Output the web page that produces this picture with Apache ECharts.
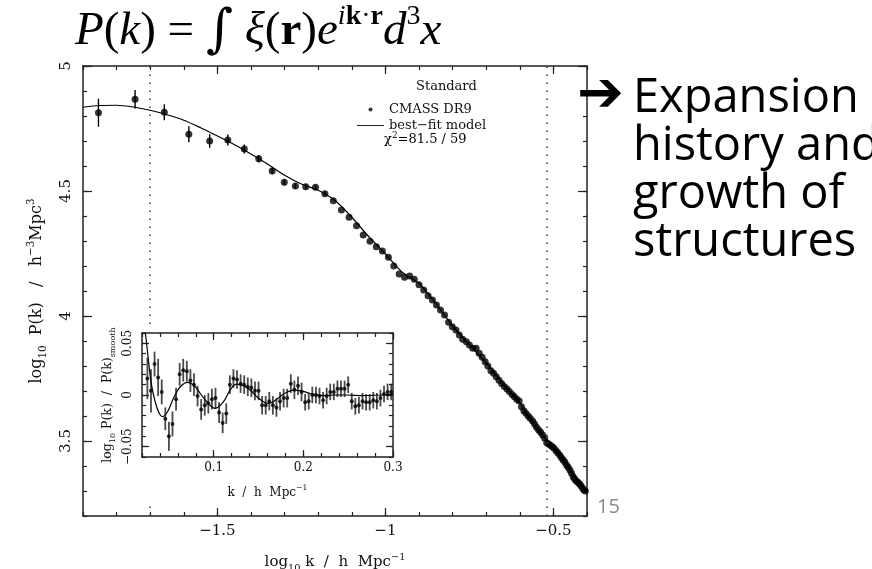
<!DOCTYPE html>
<html>
<head>
<meta charset="utf-8">
<script src="https://cdn.jsdelivr.net/npm/echarts@6/dist/echarts.min.js"></script>
<style>
  html, body { margin: 0; padding: 0; background: #fff; }
  #chart { width: 872px; height: 569px; }
</style>
</head>
<body>
<div id="chart"></div>
<script>
// main panel: log10 k vs log10 P(k)
const logK = [
  -1.854, -1.745, -1.658, -1.585, -1.523, -1.469, -1.420, -1.377, -1.337, -1.301,
  -1.268, -1.237, -1.208, -1.180, -1.155, -1.131, -1.108, -1.086, -1.066, -1.046,
  -1.027, -1.009, -0.991, -0.975, -0.959, -0.943, -0.928, -0.914, -0.900, -0.886,
  -0.873, -0.860, -0.848, -0.836, -0.824, -0.812, -0.801, -0.790, -0.780, -0.770,
  -0.759, -0.750, -0.740, -0.730, -0.721, -0.712, -0.703, -0.695, -0.686, -0.678,
  -0.670, -0.662, -0.654, -0.646, -0.638, -0.631, -0.623, -0.616, -0.609, -0.602,
  -0.595, -0.588, -0.582, -0.575, -0.569, -0.562, -0.556, -0.550, -0.544, -0.538,
  -0.532, -0.526, -0.520, -0.514, -0.509, -0.503, -0.498, -0.492, -0.487, -0.481,
  -0.476, -0.471, -0.466, -0.461, -0.456, -0.451, -0.446, -0.441, -0.437, -0.432,
  -0.427, -0.422, -0.418, -0.413, -0.409, -0.405
];
const logP = [
  4.813, 4.867, 4.815, 4.727, 4.700, 4.704, 4.668, 4.629, 4.580, 4.535,
  4.520, 4.517, 4.515, 4.489, 4.461, 4.424, 4.395, 4.361, 4.324, 4.299,
  4.277, 4.260, 4.235, 4.200, 4.168, 4.155, 4.160, 4.147, 4.125, 4.104,
  4.081, 4.064, 4.044, 4.024, 4.004, 3.975, 3.957, 3.944, 3.924, 3.907,
  3.897, 3.884, 3.871, 3.871, 3.851, 3.835, 3.817, 3.800, 3.781, 3.771,
  3.757, 3.743, 3.730, 3.718, 3.708, 3.698, 3.686, 3.677, 3.667, 3.660,
  3.637, 3.621, 3.611, 3.600, 3.591, 3.580, 3.568, 3.555, 3.544, 3.535,
  3.524, 3.511, 3.493, 3.488, 3.483, 3.477, 3.471, 3.461, 3.453, 3.443,
  3.433, 3.424, 3.416, 3.404, 3.395, 3.384, 3.371, 3.357, 3.348, 3.340,
  3.335, 3.328, 3.321, 3.311, 3.304, 3.300
];
// error bars that stick out of the dots (first bins only)
const logPErr = [0.056, 0.037, 0.032, 0.032, 0.027, 0.022, 0.018, 0.015, 0.013, 0.012, 0.011, 0.010, 0.009, 0.009];

const modelLogK = [
  -1.90, -1.85, -1.80, -1.75, -1.70, -1.65, -1.60, -1.55, -1.50, -1.45, -1.40,
  -1.35, -1.30, -1.25, -1.20, -1.15, -1.10, -1.05, -1.00, -0.95, -0.90,
  -0.85, -0.80, -0.75, -0.70, -0.65, -0.60, -0.55, -0.50, -0.45, -0.40
];
const modelLogP = [
  4.835, 4.842, 4.843, 4.836, 4.823, 4.805, 4.783, 4.753, 4.720, 4.686, 4.648,
  4.607, 4.563, 4.528, 4.503, 4.462, 4.395, 4.318, 4.248, 4.175, 4.130,
  4.050, 3.960, 3.885, 3.812, 3.730, 3.652, 3.548, 3.473, 3.385, 3.298
];
const fitRange = [0.02, 0.3];

// inset: k vs log10 P(k)/P(k)smooth
const insetK = [
  0.026, 0.030, 0.034, 0.038, 0.042, 0.046, 0.050, 0.054, 0.058, 0.062,
  0.066, 0.070, 0.074, 0.078, 0.082, 0.086, 0.090, 0.094, 0.098, 0.102,
  0.106, 0.110, 0.114, 0.118, 0.122, 0.126, 0.130, 0.134, 0.138, 0.142,
  0.146, 0.150, 0.154, 0.158, 0.162, 0.166, 0.170, 0.174, 0.178, 0.182,
  0.186, 0.190, 0.194, 0.198, 0.202, 0.206, 0.210, 0.214, 0.218, 0.222,
  0.226, 0.230, 0.234, 0.238, 0.242, 0.246, 0.250, 0.254, 0.258, 0.262,
  0.266, 0.270, 0.274, 0.278, 0.282, 0.286, 0.290, 0.294, 0.298
];
const insetRatio = [
  0.016, 0.004, 0.030, 0.017, 0.003, -0.023, -0.040, -0.028, -0.004, 0.020,
  0.024, 0.023, 0.014, 0.010, -0.001, -0.014, -0.010, -0.008, -0.004, -0.003,
  -0.017, -0.027, -0.018, 0.010, 0.016, 0.015, 0.011, 0.010, 0.008, 0.007,
  0.004, 0.004, -0.010, -0.010, -0.006, -0.010, -0.012, -0.006, -0.003, -0.003,
  0.011, 0.005, 0.009, 0.003, -0.007, -0.006, 0.000, 0.000, -0.001, -0.005,
  -0.001, 0.003, 0.003, 0.006, 0.006, 0.006, 0.010, -0.006, -0.011, -0.010,
  -0.006, -0.007, -0.007, -0.005, -0.006, -0.003, 0.001, 0.003, 0.003
];
const insetErr = [
  0.020, 0.021, 0.012, 0.018, 0.012, 0.011, 0.014, 0.012, 0.011, 0.011,
  0.011, 0.010, 0.011, 0.011, 0.010, 0.010, 0.010, 0.010, 0.010, 0.010,
  0.010, 0.010, 0.010, 0.009, 0.009, 0.009, 0.009, 0.009, 0.009, 0.009,
  0.009, 0.009, 0.009, 0.009, 0.009, 0.009, 0.009, 0.009, 0.009, 0.009,
  0.009, 0.009, 0.009, 0.009, 0.008, 0.008, 0.008, 0.008, 0.008, 0.008,
  0.008, 0.008, 0.008, 0.008, 0.008, 0.008, 0.008, 0.008, 0.008, 0.008,
  0.008, 0.008, 0.008, 0.008, 0.008, 0.008, 0.008, 0.008, 0.008
];
const insetModelK = [
  0.020, 0.0237, 0.027, 0.031, 0.037, 0.043, 0.0486, 0.0552, 0.0627, 0.0708,
  0.0775, 0.0849, 0.0923, 0.1016, 0.1109, 0.1183, 0.1257, 0.1331, 0.1406, 0.148,
  0.1554, 0.161, 0.1665, 0.1739, 0.1814, 0.1888, 0.1962, 0.2036, 0.211, 0.2222,
  0.2333, 0.2481, 0.2667, 0.2852, 0.300
];
const insetModelRatio = [
  0.075, 0.060, 0.035, 0.008, -0.013, -0.021, -0.016, -0.003, 0.008, 0.0123,
  0.0097, 0.0016, -0.0065, -0.0129, -0.0065, 0.0048, 0.0106, 0.009, 0.0048, -0.0016,
  -0.0065, -0.0081, -0.0065, -0.0016, 0.0026, 0.0048, 0.0042, 0.0026, 0.0006, -0.0006,
  0, 0, -0.0006, 0, 0.0006
];

const xMajor = [-1.5, -1, -0.5];
const yMajor = [3.5, 4, 4.5, 5];
const insetXMajor = [0.1, 0.2, 0.3];
const insetYMajor = [-0.05, 0, 0.05];

const serif = 'DejaVu Serif';
const ink = '#222';
const minus = (v) => (v < 0 ? '\u2212' : '') + Math.abs(v);

function minorAxis(gridIndex, position, min, max, step, z) {
  return {
    type: 'value', gridIndex, position, min, max, interval: step, z,
    axisLine: { show: true, onZero: false, lineStyle: { color: ink, width: 1.5 } },
    axisTick: { show: true, inside: true, length: 4, lineStyle: { color: ink, width: 1.2 } },
    axisLabel: { show: false },
    splitLine: { show: false },
  };
}

function majorAxis(gridIndex, position, min, max, ticks, len, z, extra) {
  return Object.assign({
    type: 'value', gridIndex, position, min, max, z,
    axisLine: { show: false, onZero: false },
    axisTick: { show: true, inside: true, length: len, customValues: ticks, lineStyle: { color: ink, width: 1.2 } },
    axisLabel: { show: false },
    splitLine: { show: false },
  }, extra || {});
}

const nameRich = (size) => ({
  n: { fontFamily: serif, fontSize: size, lineHeight: size + 6, color: '#111' },
  s: { fontFamily: serif, fontSize: size * 0.65, lineHeight: size * 0.65, verticalAlign: 'bottom', color: '#111' },
  p: { fontFamily: serif, fontSize: size * 0.65, lineHeight: size * 0.65, verticalAlign: 'top', color: '#111' },
});

const mainX = [-1.9, -0.4], mainY = [3.2, 5.0];
const inX = [0.02, 0.3], inY = [-0.06, 0.06];

const xAxes = [
  minorAxis(0, 'bottom', mainX[0], mainX[1], 0.1, 0),
  majorAxis(0, 'bottom', mainX[0], mainX[1], xMajor, 8, 0, {
    axisLabel: { show: true, customValues: xMajor, formatter: minus, margin: 8, fontFamily: serif, fontSize: 15, color: '#111' },
    name: '{n|log}{s|10}{n| k  /  h  Mpc}{p|\u22121}',
    nameLocation: 'middle', nameGap: 36,
    nameTextStyle: { rich: nameRich(15) },
  }),
  minorAxis(0, 'top', mainX[0], mainX[1], 0.1, 0),
  majorAxis(0, 'top', mainX[0], mainX[1], xMajor, 8, 0),
  minorAxis(1, 'bottom', inX[0], inX[1], 0.02, 6),
  majorAxis(1, 'bottom', inX[0], inX[1], insetXMajor, 7, 6, {
    axisLabel: { show: true, customValues: insetXMajor, margin: 5, fontFamily: serif, fontSize: 12, color: '#111' },
    name: '{n|k  /  h  Mpc}{p|\u22121}',
    nameLocation: 'middle', nameGap: 27,
    nameTextStyle: { rich: nameRich(12) },
  }),
  minorAxis(1, 'top', inX[0], inX[1], 0.02, 6),
  majorAxis(1, 'top', inX[0], inX[1], insetXMajor, 7, 6),
];

const yAxes = [
  minorAxis(0, 'left', mainY[0], mainY[1], 0.1, 0),
  majorAxis(0, 'left', mainY[0], mainY[1], yMajor, 9, 0, {
    axisLabel: { show: true, customValues: yMajor, rotate: 90, margin: 9, fontFamily: serif, fontSize: 15, color: '#111' },
    name: '{n|log}{s|10}{n|  P(k)   /   h}{p|\u22123}{n|Mpc}{p|3}',
    nameLocation: 'middle', nameRotate: 90, nameGap: 35,
    nameTextStyle: { rich: nameRich(16) },
  }),
  minorAxis(0, 'right', mainY[0], mainY[1], 0.1, 0),
  majorAxis(0, 'right', mainY[0], mainY[1], yMajor, 9, 0),
  minorAxis(1, 'left', inY[0], inY[1], 0.01, 6),
  majorAxis(1, 'left', inY[0], inY[1], insetYMajor, 7, 6, {
    axisLabel: { show: true, customValues: insetYMajor, formatter: minus, rotate: 90, margin: 8, fontFamily: serif, fontSize: 12, color: '#111' },
    name: '{n|log}{s|10}{n| P(k)  /  P(k)}{s|smooth}',
    nameLocation: 'middle', nameRotate: 90, nameGap: 25,
    nameTextStyle: { rich: nameRich(12.5) },
  }),
  minorAxis(1, 'right', inY[0], inY[1], 0.01, 6),
  majorAxis(1, 'right', inY[0], inY[1], insetYMajor, 7, 6),
];

function errorBars(color, width) {
  return function (params, api) {
    const x = api.value(0), y = api.value(1), e = api.value(2);
    const lo = api.coord([x, y - e]);
    const hi = api.coord([x, y + e]);
    return {
      type: 'line',
      shape: { x1: lo[0], y1: lo[1], x2: hi[0], y2: hi[1] },
      style: { stroke: color, lineWidth: width },
    };
  };
}

const mainPoints = logK.map((x, i) => [x, logP[i]]);
const mainBars = logPErr.map((e, i) => [logK[i], logP[i], e]);
const mainModel = modelLogK.map((x, i) => [x, modelLogP[i]]);
const insetPoints = insetK.map((k, i) => [k, insetRatio[i]]);
const insetBars = insetK.map((k, i) => [k, insetRatio[i], insetErr[i]]);
const insetModel = insetModelK.map((k, i) => [k, insetModelRatio[i]]);

const chart = echarts.init(document.getElementById('chart'), null, { renderer: 'canvas' });

chart.setOption({
  animation: false,
  backgroundColor: '#fff',
  grid: [
    { left: 83, top: 66, width: 504, height: 450, outerBoundsMode: 'none', containLabel: false },
    { left: 142, top: 333, width: 251, height: 124, outerBoundsMode: 'none', containLabel: false },
  ],
  xAxis: xAxes,
  yAxis: yAxes,
  legend: {
    data: [
      { name: 'CMASS DR9', icon: 'circle' },
      { name: 'best\u2212fit model', icon: 'path://M0,0H31V1H0Z' },
    ],
    orient: 'vertical',
    left: 352, top: 98,
    itemWidth: 27, itemHeight: 4, itemGap: 3,
    textStyle: { fontFamily: serif, fontSize: 13, color: '#111' },
    selectedMode: false,
  },
  graphic: [
    {
      type: 'rect', z: 4, silent: true,
      shape: { x: 97, y: 327, width: 306, height: 178 },
      style: { fill: '#fff' },
    },
    {
      type: 'text', left: 75, top: 3, z: 7,
      style: {
        text: '{i|P}{n|(}{i|k}{n|) = }{int|\u222B}{i| \u03BE}{n|(}{b|r}{n|)}{i|e}{si|i}{sb|k}{sn|\u00B7}{sb|r}{i|d}{sn|3}{i|x}',
        rich: {
          i: { fontFamily: 'Liberation Serif', fontStyle: 'italic', fontSize: 47, lineHeight: 58, color: '#000' },
          n: { fontFamily: 'Liberation Serif', fontSize: 47, lineHeight: 58, color: '#000' },
          b: { fontFamily: 'Liberation Serif', fontWeight: 'bold', fontSize: 47, lineHeight: 58, color: '#000' },
          int: { fontFamily: 'DejaVu Serif', fontSize: 52, lineHeight: 58, color: '#000' },
          si: { fontFamily: 'Liberation Serif', fontStyle: 'italic', fontSize: 28, lineHeight: 30, verticalAlign: 'top', color: '#000' },
          sb: { fontFamily: 'Liberation Serif', fontWeight: 'bold', fontSize: 28, lineHeight: 30, verticalAlign: 'top', color: '#000' },
          sn: { fontFamily: 'Liberation Serif', fontSize: 28, lineHeight: 30, verticalAlign: 'top', color: '#000' },
        },
      },
    },
    {
      type: 'text', left: 416, top: 80, z: 7,
      style: { text: 'Standard', fontFamily: serif, fontSize: 13, fill: '#111' },
    },
    {
      type: 'text', left: 384, top: 131, z: 7,
      style: {
        text: '{n|\u03C7}{p|2}{n|=81.5 / 59}',
        rich: {
          n: { fontFamily: serif, fontSize: 13, lineHeight: 17, color: '#111' },
          p: { fontFamily: serif, fontSize: 9, lineHeight: 9, verticalAlign: 'top', color: '#111' },
        },
      },
    },
    {
      type: 'text', left: 577, top: 68, z: 7,
      style: { text: '\u2794', fontFamily: 'DejaVu Sans', fontSize: 56, fill: '#000' },
    },
    {
      type: 'text', left: 633, top: 75, z: 7,
      style: {
        text: 'Expansion\nhistory and\ngrowth of\nstructures',
        fontFamily: 'Open Sans', fontSize: 47, lineHeight: 48, fill: '#000',
      },
    },
    {
      type: 'text', left: 597, top: 497, z: 7,
      style: { text: '15', fontFamily: 'Open Sans', fontSize: 20, fill: '#8a8a8a' },
    },
  ],
  series: [
    {
      name: 'best\u2212fit model', type: 'line', xAxisIndex: 1, yAxisIndex: 1,
      data: mainModel, smooth: 0.3, symbol: 'none', z: 2,
      lineStyle: { color: '#000', width: 1.2 },
      itemStyle: { color: '#000' },
      markLine: {
        silent: true, symbol: 'none', z: 3, label: { show: false },
        lineStyle: { type: [1.5, 6.5], color: '#444', width: 1.6 },
        data: fitRange.map((k) => ({ xAxis: Math.log10(k) })),
      },
    },
    {
      type: 'custom', xAxisIndex: 1, yAxisIndex: 1, z: 2, clip: true,
      renderItem: errorBars('#000', 1.4),
      data: mainBars,
    },
    {
      name: 'CMASS DR9', type: 'scatter', xAxisIndex: 1, yAxisIndex: 1, z: 2,
      data: mainPoints, symbol: 'circle', symbolSize: 7,
      itemStyle: { color: '#000' },
    },
    {
      type: 'custom', xAxisIndex: 5, yAxisIndex: 5, z: 6, clip: true,
      renderItem: errorBars('#4a4a4a', 1.8),
      data: insetBars,
    },
    {
      type: 'line', xAxisIndex: 5, yAxisIndex: 5, z: 6,
      data: insetModel, smooth: 0.4, symbol: 'none', clip: true,
      lineStyle: { color: '#000', width: 1.2 },
    },
    {
      type: 'scatter', xAxisIndex: 5, yAxisIndex: 5, z: 6,
      data: insetPoints, symbol: 'circle', symbolSize: 4,
      itemStyle: { color: '#000' },
    },
  ],
});
</script>
</body>
</html>
